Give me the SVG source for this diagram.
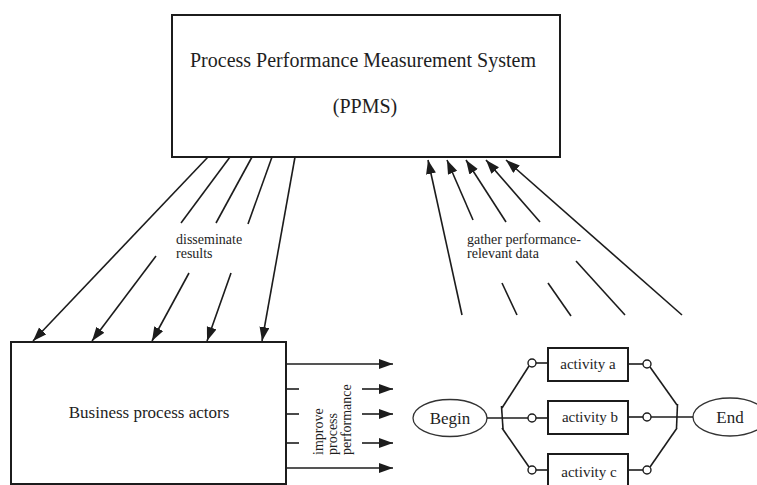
<svg xmlns="http://www.w3.org/2000/svg" width="757" height="485" viewBox="0 0 757 485">
  <style>
    .box { fill: none; stroke: #1c1c1c; stroke-width: 2; }
    .ell { fill: none; stroke: #333; stroke-width: 1.3; }
    .conn line, .conn path { stroke: #1c1c1c; stroke-width: 1.6; fill: none; }
    .conn .arrow { marker-end: url(#head); }
    .knob { fill: #fff; stroke: #1c1c1c; stroke-width: 1.4; }
    .bar { stroke: #1c1c1c; stroke-width: 3; }
    text { font-family: "Liberation Serif", "Times New Roman", serif; fill: #1e1e1e; }
    .big { font-size: 20px; }
    .mid { font-size: 17px; }
    .act { font-size: 15px; }
    .lbl { font-size: 14px; }
  </style>
  <defs>
    <marker id="head" markerUnits="userSpaceOnUse" markerWidth="15" markerHeight="11" refX="14" refY="5" orient="auto">
      <path d="M0,0 L14,5 L0,10 z" fill="#1c1c1c"/>
    </marker>
  </defs>

  <rect width="757" height="485" fill="#fff"/>

  <!-- measurement system -->
  <g id="ppms">
    <rect class="box" x="172" y="15" width="388" height="142"/>
    <text class="big" x="363" y="67" text-anchor="middle">Process Performance Measurement System</text>
    <text class="big" x="365" y="113" text-anchor="middle">(PPMS)</text>
  </g>

  <!-- actors -->
  <g id="actors">
    <rect class="box" x="11" y="342" width="275" height="142"/>
    <text class="mid" x="149" y="418" text-anchor="middle">Business process actors</text>
  </g>

  <!-- process model -->
  <g id="begin">
    <ellipse class="ell" cx="450" cy="418" rx="37" ry="18.5"/>
    <text class="mid" x="450" y="424" text-anchor="middle">Begin</text>
  </g>
  <g id="end">
    <ellipse class="ell" cx="730" cy="417" rx="37" ry="19"/>
    <text class="mid" x="730" y="423" text-anchor="middle">End</text>
  </g>
  <g id="activity-a">
    <rect class="box" x="548" y="348" width="80" height="33" stroke-width="1.6"/>
    <text class="act" x="588" y="369" text-anchor="middle">activity a</text>
  </g>
  <g id="activity-b">
    <rect class="box" x="548" y="401" width="80" height="33" stroke-width="1.6"/>
    <text class="act" x="590" y="422" text-anchor="middle">activity b</text>
  </g>
  <g id="activity-c">
    <rect class="box" x="548" y="454" width="80" height="34" stroke-width="1.6"/>
    <text class="act" x="589" y="477" text-anchor="middle">activity c</text>
  </g>

  <g id="connectors" class="conn">
    <!-- disseminate results -->
    <line class="arrow" x1="208" y1="157" x2="33" y2="341"/>
    <line x1="230" y1="157" x2="181" y2="223"/>
    <line class="arrow" x1="156" y1="256" x2="92" y2="341"/>
    <line x1="252" y1="157" x2="216" y2="223"/>
    <line class="arrow" x1="189" y1="273" x2="152" y2="341"/>
    <line x1="272" y1="157" x2="248" y2="224"/>
    <line class="arrow" x1="231" y1="273" x2="207" y2="341"/>
    <line class="arrow" x1="295" y1="157" x2="262" y2="341"/>

    <!-- gather performance-relevant data -->
    <line class="arrow" x1="462" y1="315" x2="428" y2="160"/>
    <line class="arrow" x1="473" y1="220" x2="447" y2="160"/>
    <line x1="502" y1="283" x2="517" y2="315"/>
    <line class="arrow" x1="506" y1="222" x2="466" y2="160"/>
    <line x1="548" y1="283" x2="571" y2="316"/>
    <line class="arrow" x1="540" y1="222" x2="486" y2="160"/>
    <line x1="576" y1="261" x2="625" y2="315"/>
    <line class="arrow" x1="682" y1="315" x2="506" y2="160"/>

    <!-- improve process performance -->
    <line class="arrow" x1="286" y1="364" x2="393" y2="364"/>
    <line x1="286" y1="389" x2="299" y2="389"/>
    <line class="arrow" x1="362" y1="389" x2="393" y2="389"/>
    <line x1="286" y1="414" x2="299" y2="414"/>
    <line class="arrow" x1="362" y1="414" x2="393" y2="414"/>
    <line x1="286" y1="443" x2="299" y2="443"/>
    <line class="arrow" x1="362" y1="443" x2="393" y2="443"/>
    <line class="arrow" x1="286" y1="468" x2="393" y2="468"/>

    <!-- parallel split -->
    <line x1="487" y1="418" x2="528" y2="418"/>
    <line x1="502" y1="408" x2="529" y2="366"/>
    <line x1="502" y1="428" x2="529" y2="467"/>
    <line x1="536" y1="363" x2="548" y2="363"/>
    <line x1="536" y1="418" x2="548" y2="418"/>
    <line x1="536" y1="470" x2="548" y2="470"/>
    <line class="bar" x1="501.5" y1="406" x2="503" y2="429"/>

    <!-- parallel join -->
    <line x1="628" y1="364" x2="643" y2="364"/>
    <line x1="628" y1="417" x2="643" y2="417"/>
    <line x1="628" y1="470" x2="643" y2="470"/>
    <line x1="650" y1="367" x2="677" y2="405"/>
    <line x1="650" y1="467" x2="677" y2="428"/>
    <line x1="651" y1="417" x2="693" y2="417"/>
    <line class="bar" x1="677.5" y1="404" x2="676.5" y2="428"/>

    <circle class="knob" cx="532" cy="363" r="4"/>
    <circle class="knob" cx="532" cy="418" r="4"/>
    <circle class="knob" cx="532" cy="470" r="4"/>
    <circle class="knob" cx="647" cy="364" r="4"/>
    <circle class="knob" cx="647" cy="417" r="4"/>
    <circle class="knob" cx="647" cy="470" r="4"/>
  </g>

  <!-- connector labels -->
  <g id="labels">
    <text class="lbl" x="176" y="244">disseminate</text>
    <text class="lbl" x="176" y="258">results</text>
    <text class="lbl" x="467" y="244">gather performance-</text>
    <text class="lbl" x="467" y="258">relevant data</text>
    <g transform="translate(323,455) rotate(-90)">
      <text class="lbl" x="0" y="0">improve</text>
      <text class="lbl" x="0" y="14">process</text>
      <text class="lbl" x="0" y="28">performance</text>
    </g>
  </g>
</svg>
